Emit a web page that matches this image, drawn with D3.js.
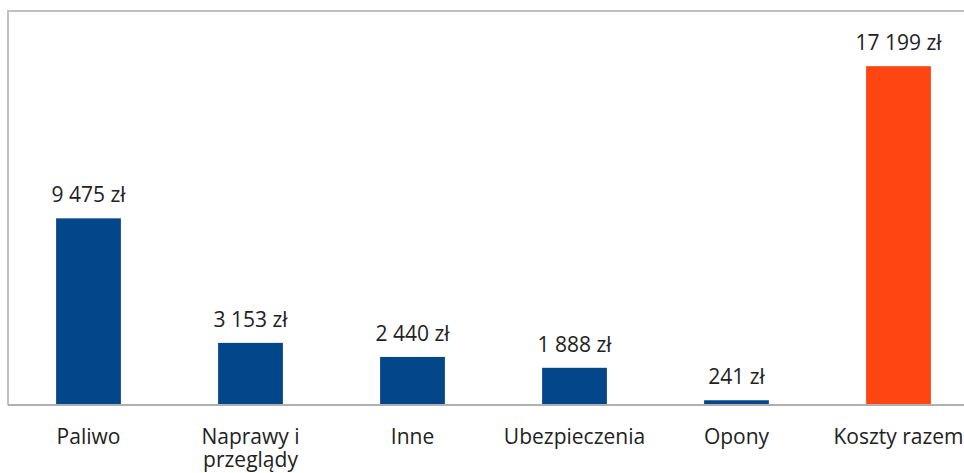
<!DOCTYPE html>
<html>
<head>
<meta charset="utf-8">
<script src="https://cdn.jsdelivr.net/npm/d3@7"></script>
<style>
  body { margin: 0; background: #fff; }
  text { font-family: "Open Sans", "Noto Sans", sans-serif; fill: #222; }
</style>
</head>
<body>
<div id="chart"></div>
<script>
// koszty utrzymania samochodu
var categories = [['Paliwo'], ['Naprawy i', 'przeglądy'], ['Inne'], ['Ubezpieczenia'], ['Opony'], ['Koszty razem']]
var values = [9475, 3153, 2440, 1888, 241, 17199]
var valueLabels = ['9 475 zł', '3 153 zł', '2 440 zł', '1 888 zł', '241 zł', '17 199 zł']
var colors = ['#03468a', '#03468a', '#03468a', '#03468a', '#03468a', '#ff4512']

var width = 964,
    height = 473,
    plotTop = 11,
    baseline = 405,
    left = 8

var xScale = d3.scaleBand()
    .domain(d3.range(values.length))
    .range([7.5, 979.5])
    .paddingInner(0.6)
    .paddingOuter(0.3)

var yScale = d3.scaleLinear()
    .domain([0, 20000])
    .range([baseline, plotTop])

var svg = d3.select('#chart')
  .append('svg')
    .attr('width', width)
    .attr('height', height)

// plot frame
svg.append('path')
    .attr('d', 'M' + left + ',' + baseline + 'V' + plotTop + 'H' + width)
    .attr('fill', 'none')
    .attr('stroke', '#c0c0c0')
    .attr('stroke-width', 2)

svg.selectAll('rect.bar').data(values)
  .enter().append('rect')
    .classed('bar', true)
    .attr('x', function(d, i) { return xScale(i) })
    .attr('y', function(d) { return yScale(d) })
    .attr('width', xScale.bandwidth())
    .attr('height', function(d) { return baseline - yScale(d) })
    .style('fill', function(d, i) { return colors[i] })

// x axis line
svg.append('line')
    .attr('x1', left).attr('x2', width)
    .attr('y1', baseline).attr('y2', baseline)
    .attr('stroke', '#b0b0b0')
    .attr('stroke-width', 2)

svg.selectAll('text.value').data(values)
  .enter().append('text')
    .classed('value', true)
    .attr('text-anchor', 'middle')
    .attr('font-size', 21)
    .attr('x', function(d, i) { return xScale(i) + xScale.bandwidth() / 2 })
    .attr('y', function(d) { return yScale(d) - 16 })
    .text(function(d, i) { return valueLabels[i] })

svg.selectAll('text.cat').data(categories)
  .enter().append('text')
    .classed('cat', true)
    .attr('text-anchor', 'middle')
    .attr('font-size', 21)
    .attr('x', function(d, i) { return xScale(i) + xScale.bandwidth() / 2 })
    .attr('y', 444)
    .each(function(d) {
      var t = d3.select(this)
      d.forEach(function(line, j) {
        t.append('tspan')
          .attr('x', t.attr('x'))
          .attr('dy', j === 0 ? 0 : 23)
          .text(line)
      })
    })
</script>
</body>
</html>
